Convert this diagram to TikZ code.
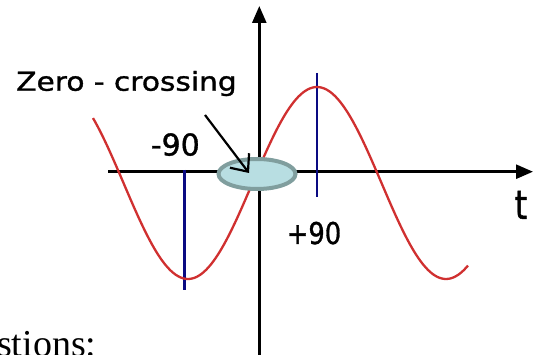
\documentclass[tikz,border=0pt]{standalone}
\usepackage{fontspec}
\newfontfamily\lblfont{DejaVu Sans}[FakeBold=1.2]
\newfontfamily\bodyfont{Liberation Serif}
\usetikzlibrary{arrows.meta,shapes.geometric}
\definecolor{sinered}{RGB}{208,48,48}
\definecolor{marknavy}{RGB}{10,10,130}
\definecolor{zcfill}{RGB}{184,222,226}
\definecolor{zcedge}{RGB}{128,158,158}
\begin{document}
\begin{tikzpicture}[x=1pt,y=-1pt,
  axisline/.style={line width=2.6pt,-{Triangle[length=17pt,width=14pt]}},
  markline/.style={draw=marknavy,line width=2.2pt},
  wave/.style={draw=sinered,line width=2.3pt},
  zcell/.style={ellipse,draw=zcedge,fill=zcfill,line width=4pt,minimum width=77pt,minimum height=30pt,inner sep=0pt},
  callout/.style={line width=2.2pt,-{Straight Barb[length=14pt,width=24pt]}},
  lbl/.style={inner sep=0pt,anchor=base}]
\useasboundingbox (0,0) rectangle (533,355);
\clip (0,0) rectangle (533,355);
% axes
\coordinate (xs) at (108,171.7);
\coordinate (xe) at (533,171.7);
\coordinate (ys) at (259.3,356);
\coordinate (ye) at (259.3,6);
\draw[axisline] (xs) -- (xe);
\draw[axisline] (ys) -- (ye);
% marker lines
\coordinate (mla) at (184.5,170);
\coordinate (mlb) at (184.5,290);
\coordinate (mra) at (317,73);
\coordinate (mrb) at (317,197);
\draw[markline] (mla) -- (mlb);
\draw[markline] (mra) -- (mrb);
% sine wave
\draw[wave] plot[domain=93:468,samples=160,smooth] (\x,{183-96*sin((\x-252.5)*1.395349)});
% zero-crossing ellipse
\node[zcell] (zc) at (257,174) {};
% labels
\node[lbl,font=\lblfont\fontsize{26}{31}\selectfont,xscale=1.14] (zlabel) at (126.5,90.7) {Zero - crossing};
\node[lbl,font=\lblfont\fontsize{30}{36}\selectfont] (mlab) at (175.3,155.5) {-90};
\node[lbl,font=\lblfont\fontsize{30}{36}\selectfont,xscale=0.86] (plab) at (314,244) {+90};
\node[lbl,font=\lblfont\fontsize{40}{46}\selectfont,xscale=0.8] (tlab) at (521,219) {t};
\node[inner sep=0pt,anchor=base west,font=\bodyfont\fontsize{38}{44}\selectfont] (qlab) at (-3,356) {stions:};
% callout arrow
\coordinate (arrs) at (205,115);
\coordinate (arrt) at (249,173);
\draw[callout] (arrs) -- (arrt);
\end{tikzpicture}
\end{document}
